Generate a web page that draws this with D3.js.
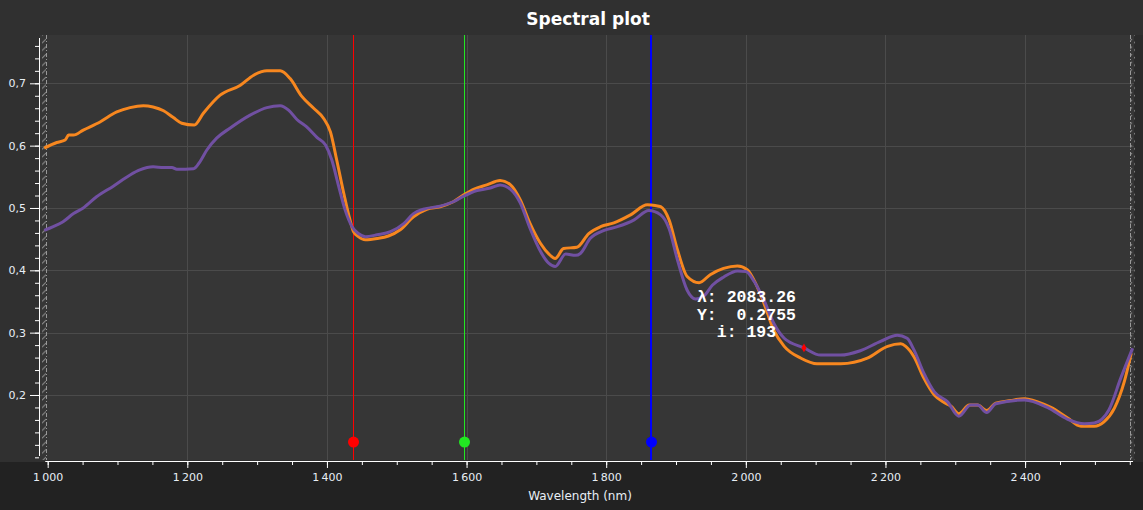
<!DOCTYPE html>
<html>
<head>
<meta charset="utf-8">
<script src="https://cdn.jsdelivr.net/npm/d3@7"></script>
<style>
  body { margin: 0; background: #303030; overflow: hidden; }
  svg { display: block; }
</style>
</head>
<body>
<div id="chart"></div>
<script>
// spectra: [wavelength nm, reflectance]
var orangeSeries = [
  [995,.596],[1013,.605],[1025,.609],[1030,.617],[1037,.617],[1051,.625],[1075,.638],[1099,.654],
  [1118,.661],[1137,.664],[1151,.662],[1166,.656],[1180,.645],[1192,.636],[1210,.633],[1223,.652],
  [1247,.681],[1276,.697],[1295,.713],[1314,.720],[1333,.720],[1347,.708],[1364,.679],[1381,.660],
  [1395,.644],[1405,.622],[1414,.577],[1424,.524],[1433,.481],[1438,.462],[1445,.454],[1455,.449],
  [1472,.451],[1488,.455],[1505,.465],[1524,.486],[1543,.498],[1562,.502],[1581,.510],[1596,.521],
  [1610,.530],[1629,.537],[1648,.544],[1663,.537],[1677,.513],[1691,.475],[1706,.443],[1718,.426],
  [1727,.419],[1739,.435],[1758,.437],[1775,.459],[1792,.470],[1811,.476],[1835,.489],[1859,.505],
  [1870,.504],[1878,.502],[1890,.481],[1902,.433],[1916,.390],[1933,.380],[1949,.393],[1968,.403],
  [1988,.407],[2002,.401],[2014,.379],[2026,.347],[2040,.304],[2055,.278],[2079,.259],[2102,.250],
  [2136,.250],[2174,.259],[2203,.278],[2222,.282],[2229,.278],[2241,.261],[2255,.227],[2270,.200],
  [2284,.188],[2294,.182],[2305,.170],[2320,.184],[2332,.184],[2345,.175],[2358,.187],[2379,.191],
  [2399,.194],[2418,.189],[2437,.180],[2461,.163],[2480,.150],[2499,.150],[2513,.157],[2528,.179],
  [2542,.221],[2552,.267]
];
var purpleSeries = [
  [995,.464],[1008,.470],[1022,.478],[1037,.491],[1051,.500],[1070,.518],[1094,.535],[1118,.553],
  [1132,.561],[1151,.566],[1166,.565],[1178,.565],[1185,.562],[1209,.563],[1218,.574],[1228,.593],
  [1242,.612],[1261,.628],[1290,.649],[1314,.661],[1333,.664],[1345,.657],[1357,.642],[1371,.630],
  [1386,.613],[1398,.601],[1407,.577],[1417,.534],[1426,.497],[1436,.470],[1445,.459],[1455,.454],
  [1472,.457],[1491,.462],[1510,.475],[1524,.491],[1538,.498],[1562,.503],[1581,.510],[1596,.519],
  [1615,.528],[1634,.532],[1648,.537],[1663,.530],[1677,.508],[1691,.467],[1706,.430],[1718,.411],
  [1727,.406],[1742,.426],[1756,.424],[1763,.427],[1777,.451],[1797,.464],[1816,.470],[1840,.481],
  [1861,.496],[1878,.489],[1890,.467],[1902,.417],[1916,.368],[1928,.354],[1940,.359],[1952,.376],
  [1968,.389],[1988,.399],[2000,.398],[2012,.382],[2026,.352],[2040,.315],[2055,.291],[2083.26,.2755],
  [2107,.264],[2136,.264],[2164,.271],[2193,.286],[2217,.296],[2231,.291],[2241,.272],[2255,.235],
  [2270,.205],[2289,.189],[2305,.166],[2322,.184],[2332,.184],[2345,.172],[2358,.186],[2399,.192],
  [2432,.180],[2461,.161],[2485,.154],[2499,.155],[2520,.176],[2537,.227],[2554,.275]
];
// band markers (wavelength + colour)
var bandWl = [1438, 1595.7, 1864.5];
var bandColors = ["#ff0000", "#22e822", "#0000ff"];
var bandMarkerLevel = 0.1245;
// hovered point
var hoverWl = 2083.26, hoverY = 0.2755, hoverIdx = 193;

var xTicksMajor = [1000, 1200, 1400, 1600, 1800, 2000, 2200, 2400];
var yTicksMajor = [0.2, 0.3, 0.4, 0.5, 0.6, 0.7];

var W = 1143, H = 510;
var plotL = 40, plotR = 1134, plotT = 35, plotB = 460;

var loc = d3.formatLocale({decimal: ",", thousands: "\u2009", grouping: [3], currency: ["", ""]});
var fmtX = loc.format(",d"), fmtY = loc.format(".1f");

var x = d3.scaleLinear().domain([989, 2556]).range([plotL, plotR]);
var y = d3.scaleLinear().domain([0.0957, 0.7775]).range([plotB, plotT]);

var svg = d3.select("#chart").append("svg").attr("width", W).attr("height", H);

svg.append("rect").attr("width", W).attr("height", H).attr("fill", "#303030");
svg.append("rect").attr("x", 0).attr("y", 462).attr("width", W).attr("height", H - 462).attr("fill", "#222222");
svg.append("rect").attr("x", plotR).attr("y", plotT).attr("width", W - plotR).attr("height", 427).attr("fill", "#2b2b2b");

svg.append("text")
  .attr("x", 588).attr("y", 25)
  .attr("text-anchor", "middle")
  .attr("fill", "#ffffff")
  .style("font", "bold 17px 'DejaVu Sans', sans-serif")
  .text("Spectral plot");

svg.append("rect")
  .attr("x", plotL).attr("y", plotT)
  .attr("width", plotR - plotL).attr("height", plotB - plotT)
  .attr("fill", "#363636");

// grid
var grid = svg.append("g").attr("stroke", "#4b4b4b").attr("stroke-width", 1);
grid.selectAll(".gx").data(xTicksMajor.slice(1)).enter().append("line")
  .attr("x1", d => Math.round(x(d)) + 0.5).attr("x2", d => Math.round(x(d)) + 0.5)
  .attr("y1", plotT).attr("y2", plotB);
grid.selectAll(".gy").data(yTicksMajor).enter().append("line")
  .attr("y1", d => Math.round(y(d)) + 0.5).attr("y2", d => Math.round(y(d)) + 0.5)
  .attr("x1", plotL).attr("x2", plotR);

// hatched plot borders
var defs = svg.append("defs");
var pat = defs.append("pattern").attr("id", "hatch").attr("patternUnits", "userSpaceOnUse")
  .attr("width", 6).attr("height", 7.6);
pat.append("line").attr("x1", 0).attr("y1", 5).attr("x2", 4).attr("y2", 1)
  .attr("stroke", "#8a8a8a").attr("stroke-width", 1);
svg.append("rect").attr("x", 41).attr("y", plotT).attr("width", 5).attr("height", plotB - plotT)
  .attr("fill", "url(#hatch)");
svg.append("rect").attr("x", 1130).attr("y", plotT).attr("width", 5).attr("height", plotB - plotT)
  .attr("fill", "url(#hatch)");
[46.5, 1130.5].forEach(function (bx) {
  svg.append("line").attr("x1", bx).attr("x2", bx).attr("y1", plotT).attr("y2", plotB)
    .attr("stroke", "#999").attr("stroke-dasharray", "4,2,1,2");
});

// band lines
svg.selectAll(".band").data(bandWl).enter().append("line")
  .attr("x1", (d, i) => Math.round(x(d)) + (i == 2 ? 0 : 0.5))
  .attr("x2", (d, i) => Math.round(x(d)) + (i == 2 ? 0 : 0.5))
  .attr("y1", plotT).attr("y2", plotB)
  .attr("stroke", (d, i) => bandColors[i])
  .attr("stroke-width", (d, i) => i == 2 ? 2 : 1);

// spectra
var line = d3.line().x(d => x(d[0])).y(d => y(d[1])).curve(d3.curveMonotoneX);
svg.append("path").datum(orangeSeries).attr("d", line)
  .attr("fill", "none").attr("stroke", "#f7871f").attr("stroke-width", 3).attr("stroke-linejoin", "round");
svg.append("path").datum(purpleSeries).attr("d", line)
  .attr("fill", "none").attr("stroke", "#7150a2").attr("stroke-width", 3).attr("stroke-linejoin", "round");

// band markers
svg.selectAll(".bm").data(bandWl).enter().append("circle")
  .attr("cx", d => Math.round(x(d)) + 0.5).attr("cy", y(bandMarkerLevel))
  .attr("r", 5.5)
  .attr("fill", (d, i) => bandColors[i]);

// hover marker + readout
var hx = x(hoverWl), hy = y(hoverY);
svg.append("path")
  .attr("d", d3.symbol().type(d3.symbolDiamond).size(22))
  .attr("transform", "translate(" + hx + "," + hy + ")")
  .attr("fill", "#ff0000");
var readout = svg.append("text")
  .attr("fill", "#ffffff")
  .attr("xml:space", "preserve")
  .style("font", "bold 16.5px 'Liberation Mono', monospace")
  .style("white-space", "pre");
["\u03bb: " + hoverWl.toFixed(2), "Y:  " + hoverY.toFixed(4), "  i: " + hoverIdx].forEach(function (t, i) {
  readout.append("tspan").attr("x", hx - 107).attr("y", hy - 46 + i * 17.7).text(t);
});

// axes
var axisFont = "11px 'DejaVu Sans', sans-serif";
var gx = svg.append("g").attr("transform", "translate(0," + (plotB + 1) + ")");
gx.call(d3.axisBottom(x).tickValues(d3.range(1000, 2551, 50)).tickSize(4).tickFormat(""));
gx.append("g").call(d3.axisBottom(x).tickValues(xTicksMajor).tickSize(7).tickFormat(fmtX));
gx.selectAll("path.domain").attr("d", "M" + 45.5 + ",0.5H" + 1133);
gx.selectAll("line").attr("stroke", "#ffffff");
gx.selectAll("path").attr("stroke", "#ffffff");
gx.selectAll("text").attr("fill", "#e8eef5").style("font", axisFont).attr("dy", "0.95em");

var gy = svg.append("g").attr("transform", "translate(39,0)");
gy.call(d3.axisLeft(y).tickValues(d3.range(0.1, 0.771, 0.02)).tickSize(4).tickFormat(""));
gy.append("g").call(d3.axisLeft(y).tickValues(yTicksMajor).tickSize(9).tickFormat(fmtY));
gy.selectAll("path.domain").attr("d", "M0.5,38V456");
gy.selectAll("line").attr("stroke", "#ffffff");
gy.selectAll("path").attr("stroke", "#ffffff");
gy.selectAll("text").attr("fill", "#e8eef5").style("font", axisFont).attr("x", -13);

svg.append("text")
  .attr("x", 580).attr("y", 500)
  .attr("text-anchor", "middle")
  .attr("fill", "#e8eef5")
  .style("font", "12px 'DejaVu Sans', sans-serif")
  .text("Wavelength (nm)");
</script>
</body>
</html>
